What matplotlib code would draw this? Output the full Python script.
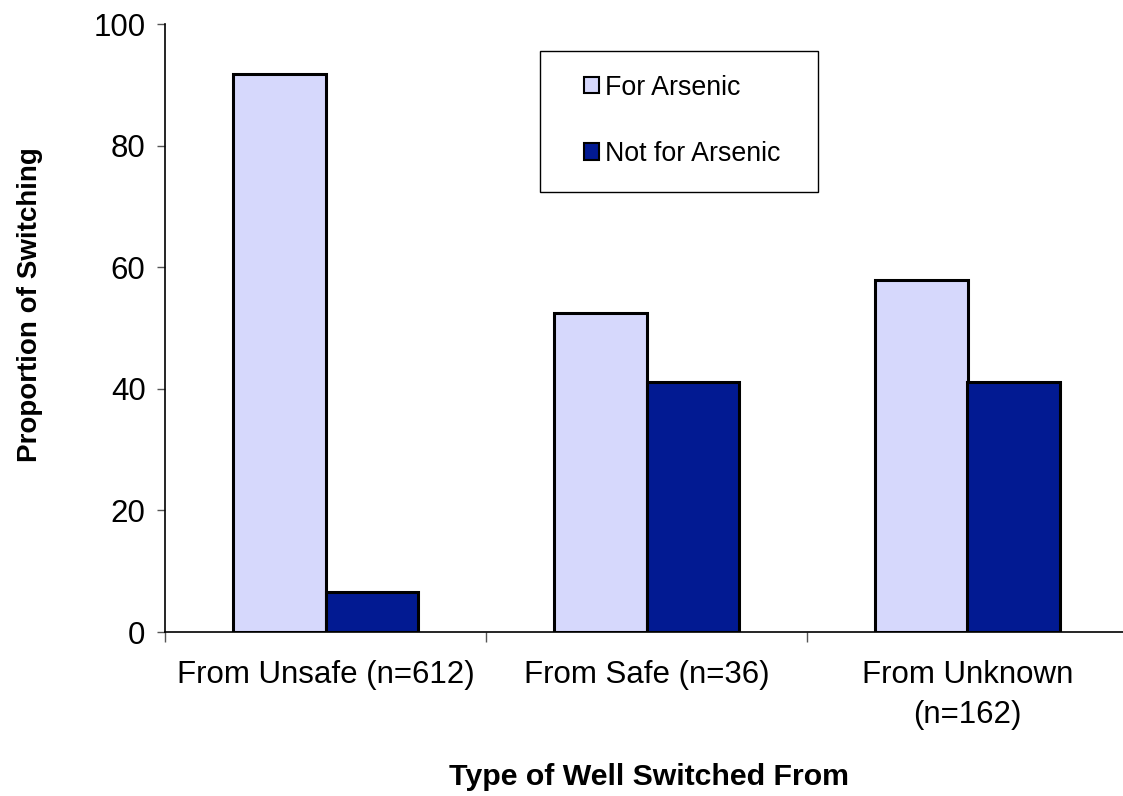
import matplotlib
matplotlib.use("Agg")
import matplotlib.pyplot as plt
from matplotlib.patches import Rectangle, Patch
import numpy as np

categories = ["From Unsafe (n=612)", "From Safe (n=36)", "From Unknown\n(n=162)"]
for_arsenic = [91.8, 52.4, 57.9]
not_for_arsenic = [6.6, 41.2, 41.2]
series_names = ["For Arsenic", "Not for Arsenic"]
yticks = [0, 20, 40, 60, 80, 100]

plt.rcParams['font.family'] = ['Liberation Sans', 'DejaVu Sans']

W, H = 1123, 796
fig = plt.figure(figsize=(W / 100, H / 100), dpi=100)
ax = fig.add_axes([165 / W, 1 - 632 / H, (1128 - 165) / W, (632 - 24) / H])

x = np.arange(len(categories))
bw = 0.289
light = '#D6D8FC'
dark = '#021A92'
ax.bar(x - bw / 2, for_arsenic, bw, color=light, edgecolor='black', linewidth=2.2,
       label=series_names[0])
ax.bar(x + bw / 2, not_for_arsenic, bw, color=dark, edgecolor='black', linewidth=2.2,
       label=series_names[1])

ax.set_xlim(-0.5, len(categories) - 0.5)
ax.set_ylim(0, 100)
ax.set_yticks(yticks)
ax.tick_params(axis='y', labelsize=22.5, length=6, width=1, color='#555555', pad=8)
ax.set_xticks(np.arange(len(categories) + 1) - 0.5)
ax.set_xticklabels([])
ax.tick_params(axis='x', which='major', length=7, width=1, color='#555555')
ax.set_xticks(x, minor=True)
ax.set_xticklabels(categories, minor=True, fontsize=22.5)
ax.tick_params(axis='x', which='minor', length=0, pad=20)
for lbl in ax.get_xticklabels(minor=True):
    lbl.set_horizontalalignment('center')
    lbl.set_verticalalignment('top')
    lbl.set_multialignment('center')
    lbl.set_linespacing(1.45)

for s in ['top', 'right']:
    ax.spines[s].set_visible(False)
for s in ['left', 'bottom']:
    ax.spines[s].set_linewidth(1.2)
    ax.spines[s].set_color('black')

fig.text(30 / W, 1 - 305 / H, 'Proportion of Switching', rotation=90, fontsize=20,
         fontweight='bold', ha='center', va='center')
fig.text(649 / W, 1 - 777 / H, 'Type of Well Switched From', fontsize=21.8,
         fontweight='bold', ha='center', va='center')

# legend box
fig.patches.append(Rectangle((540 / W, 1 - 192 / H), (818 - 540) / W, (192 - 51) / H,
                             transform=fig.transFigure, facecolor='white',
                             edgecolor='black', linewidth=1.0, zorder=5))
handles = [Patch(facecolor=light, edgecolor='black', linewidth=1.5),
           Patch(facecolor=dark, edgecolor='black', linewidth=1.5)]
leg = fig.legend(handles, series_names, loc='upper left',
                 bbox_to_anchor=(565 / W, 1 - 56 / H), frameon=False, fontsize=19.3,
                 handlelength=0.56, handleheight=0.56, handletextpad=0.25,
                 labelspacing=1.5, borderpad=0.2)
leg.set_zorder(6)

fig.savefig('out.png', dpi=100, facecolor='white')
